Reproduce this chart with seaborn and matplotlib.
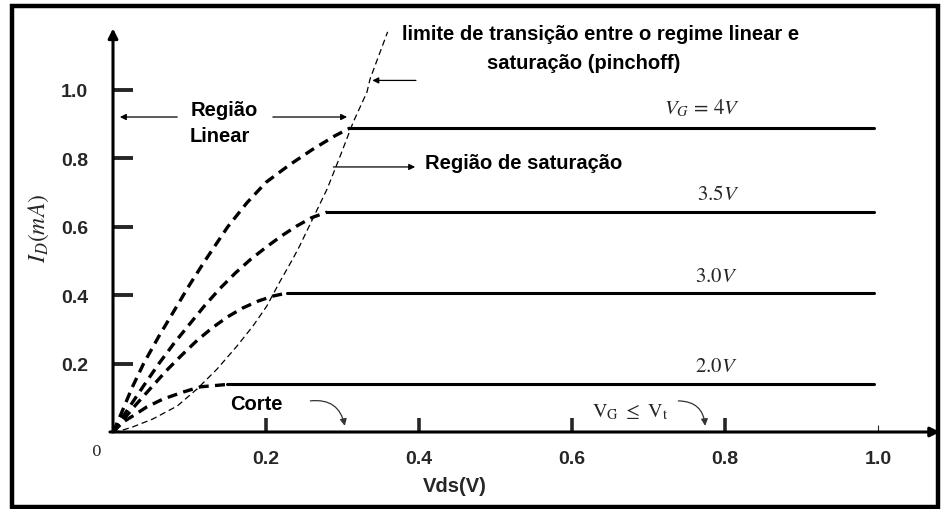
import matplotlib
matplotlib.use("Agg")
import matplotlib.pyplot as plt
import matplotlib.patches as mpatches
import seaborn as sns

# ---- data (Vds in V, Id in mA) ----
vg_labels = [r"$V_G\,=\,4V$", r"$3.5V$", r"$3.0V$", r"$2.0V$"]

lin_x_4v = [0.0, 0.010, 0.025, 0.040, 0.060, 0.080, 0.100, 0.120, 0.150,
            0.175, 0.200, 0.230, 0.260, 0.290, 0.310]
lin_y_4v = [0.0, 0.050, 0.130, 0.200, 0.280, 0.355, 0.430, 0.500, 0.600,
            0.670, 0.730, 0.780, 0.825, 0.866, 0.889]

lin_x_35v = [0.0, 0.010, 0.025, 0.040, 0.060, 0.080, 0.100, 0.120, 0.140,
             0.160, 0.180, 0.200, 0.220, 0.240, 0.260, 0.280]
lin_y_35v = [0.0, 0.035, 0.085, 0.135, 0.200, 0.260, 0.315, 0.370, 0.420,
             0.465, 0.505, 0.540, 0.573, 0.602, 0.627, 0.643]

lin_x_3v = [0.0, 0.015, 0.030, 0.050, 0.070, 0.090, 0.110, 0.130, 0.150,
            0.170, 0.190, 0.210, 0.227]
lin_y_3v = [0.0, 0.040, 0.080, 0.130, 0.180, 0.225, 0.268, 0.305, 0.337,
            0.363, 0.383, 0.398, 0.406]

lin_x_2v = [0.0, 0.013, 0.026, 0.044, 0.065, 0.092, 0.114, 0.149]
lin_y_2v = [0.0, 0.029, 0.047, 0.073, 0.096, 0.117, 0.132, 0.139]

sat_start = [0.310, 0.280, 0.227, 0.149]
sat_level = [0.889, 0.643, 0.406, 0.139]
sat_end = 0.995

# pinch-off boundary
pinch_x = [0.0, 0.009, 0.026, 0.052, 0.084, 0.110, 0.136, 0.162, 0.183,
           0.201, 0.218, 0.235, 0.244, 0.261, 0.280, 0.297, 0.314, 0.332,
           0.336, 0.359]
pinch_y = [0.0, 0.003, 0.015, 0.038, 0.076, 0.126, 0.184, 0.251, 0.310,
           0.368, 0.439, 0.506, 0.544, 0.623, 0.711, 0.807, 0.906, 0.994,
           1.032, 1.170]

x_ticks = [0.2, 0.4, 0.6, 0.8, 1.0]
y_ticks = [0.2, 0.4, 0.6, 0.8, 1.0]

lin_curves = [(lin_x_4v, lin_y_4v), (lin_x_35v, lin_y_35v),
              (lin_x_3v, lin_y_3v), (lin_x_2v, lin_y_2v)]

sns.set_theme(style="white")
plt.rcParams["font.family"] = ["Liberation Sans", "DejaVu Sans"]
plt.rcParams["mathtext.fontset"] = "stix"

W, H = 941, 510
fig = plt.figure(figsize=(W / 100, H / 100), dpi=100)
ax = fig.add_axes([0, 0, 1, 1])
# pixel mapping: x=0 -> 113px, 765px per unit ; y=0 -> 433px, 342px per unit
ax.set_xlim(-113 / 765, (W - 113) / 765)
ax.set_ylim(-(H - 433) / 342, 433 / 342)
ax.set_facecolor("white")

# linear region curves (thick dashed)
for cx, cy in lin_curves:
    sns.lineplot(x=cx, y=cy, ax=ax, color="black", lw=2.4,
                 linestyle=(0, (3.0, 1.9)), sort=False, estimator=None)

# saturation region (solid)
for xs, lvl in zip(sat_start, sat_level):
    sns.lineplot(x=[xs, sat_end], y=[lvl, lvl], ax=ax, color="black",
                 lw=2.2, estimator=None)

# pinch-off limit (thin dashed)
sns.lineplot(x=pinch_x, y=pinch_y, ax=ax, color="black", lw=0.9,
             linestyle=(0, (5, 3)), sort=False, estimator=None)

# axes with arrow heads
for s in ax.spines.values():
    s.set_visible(False)
ax.spines["left"].set_position(("data", 0))
ax.spines["bottom"].set_position(("data", 0))
ax.annotate("", xy=(0, 1.18), xytext=(0, 0),
            arrowprops=dict(arrowstyle="-|>", lw=2.2, color="black",
                            mutation_scale=14, shrinkA=0, shrinkB=0))
ax.annotate("", xy=(1.081, 0), xytext=(-0.004, 0),
            arrowprops=dict(arrowstyle="-|>", lw=2.2, color="black",
                            mutation_scale=14, shrinkA=0, shrinkB=0))

ax.set_xticks(x_ticks)
ax.set_xticklabels([f"{v:.1f}" for v in x_ticks], fontweight="bold")
ax.set_yticks(y_ticks)
ax.set_yticklabels([f"{v:.1f}" for v in y_ticks], fontweight="bold")
ax.tick_params(axis="x", direction="in", length=10, width=2.6,
               pad=13, labelsize=14, bottom=True)
ax.tick_params(axis="y", direction="in", length=14.5, width=2.8,
               pad=18, labelsize=14, left=True)
last = ax.xaxis.get_major_ticks()[-1]
last.tick1line.set_markersize(5)
last.tick1line.set_markeredgewidth(0.8)
last.tick1line.set_color("#666666")

ax.text(-0.021, -0.056, "0", family="DejaVu Serif", fontsize=11,
        ha="center", va="center")

ax.set_xlabel("Vds(V)", fontweight="bold", fontsize=14.5)
ax.xaxis.set_label_coords(455 / W, 1 - 477 / H)
ax.set_ylabel(r"$I_D(mA)$", fontsize=17)
ax.yaxis.set_label_coords(51 / W, 1 - 228 / H)

# curve labels
lbl_pos = [(0.770, 0.951), (0.791, 0.696), (0.789, 0.459), (0.789, 0.193)]
for txt, (tx, ty) in zip(vg_labels, lbl_pos):
    ax.text(tx, ty, txt, fontsize=15, ha="center", va="center")

# annotations
bold = dict(fontweight="bold", fontsize=14.5, color="black")
ax.text(0.146, 0.943, "Região", ha="center", va="center", **bold)
ax.text(0.139, 0.867, "Linear", ha="center", va="center", **bold)
ax.text(0.378, 1.166, "limite de transição entre o regime linear e",
        ha="left", va="center", **bold)
ax.text(0.489, 1.081, "saturação (pinchoff)", ha="left", va="center", **bold)
ax.text(0.408, 0.789, "Região de saturação", ha="left", va="center", **bold)
ax.text(0.187, 0.082, "Corte", ha="center", va="center", **bold)
ax.text(0.676, 0.062, r"$\mathrm{V_G}\ \leq\ \mathrm{V_t}$", fontsize=14.5,
        ha="center", va="center")

arr = dict(arrowstyle="-|>", lw=0.9, color="black", mutation_scale=9,
           shrinkA=0, shrinkB=0)
ax.annotate("", xy=(0.009, 0.921), xytext=(0.084, 0.921), arrowprops=arr)
ax.annotate("", xy=(0.306, 0.921), xytext=(0.209, 0.921), arrowprops=arr)
ax.annotate("", xy=(0.395, 0.775), xytext=(0.288, 0.775), arrowprops=arr)
ax.annotate("", xy=(0.339, 1.028), xytext=(0.396, 1.028), arrowprops=arr)

carr = dict(arrowstyle="-|>", lw=0.9, color="#333333", mutation_scale=10,
            shrinkA=0, shrinkB=0, connectionstyle="arc3,rad=-0.45")
ax.annotate("", xy=(0.303, 0.018), xytext=(0.258, 0.091), arrowprops=carr)
ax.annotate("", xy=(0.774, 0.018), xytext=(0.739, 0.091), arrowprops=carr)

# outer frame
fig.patches.append(mpatches.Rectangle((12 / W, 2 / H), 926 / W, 501 / H,
                                      transform=fig.transFigure, fill=False,
                                      lw=3.2, edgecolor="black"))

fig.savefig("out.png", dpi=100)
